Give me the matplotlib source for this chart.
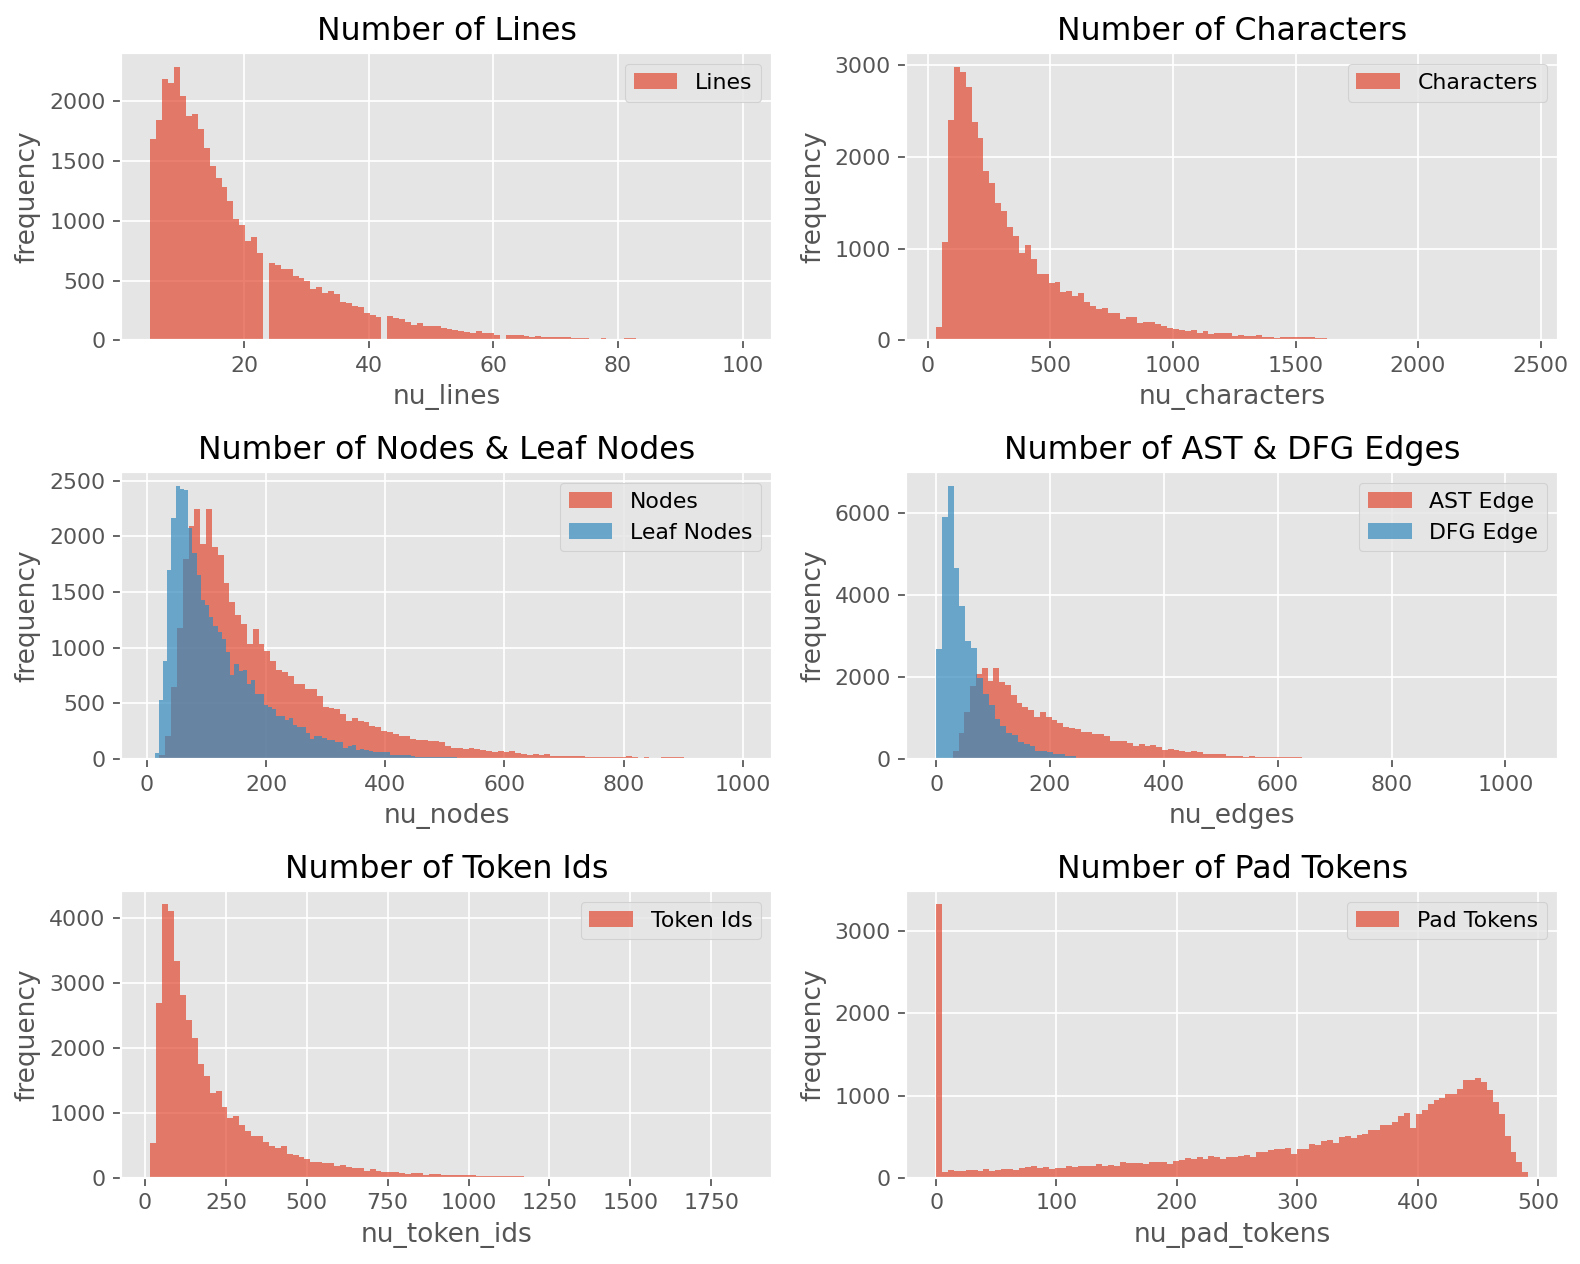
import numpy as np
import matplotlib
matplotlib.use("Agg")
import matplotlib.pyplot as plt

# bin counts (100 bins per histogram)
lines_edges = np.linspace(5, 100, 101)
lines_counts = [1680, 1840, 2185, 2152, 2287, 2042, 1874, 1890, 1764, 1612,
                1461, 1360, 1284, 1166, 1014, 963, 829, 862, 727, 0,
                643, 626, 593, 593, 534, 525, 500, 433, 449, 399,
                416, 390, 323, 315, 289, 281, 230, 213, 197, 0,
                205, 188, 180, 154, 129, 148, 122, 122, 122, 102,
                97, 85, 80, 71, 62, 80, 62, 62, 45, 0,
                48, 42, 44, 40, 32, 34, 30, 32, 26, 26,
                26, 18, 20, 20, 14, 14, 18, 12, 12, 0,
                18, 18, 4, 0, 12, 3, 2, 2, 2, 0,
                1, 1, 1, 1, 1, 1, 1, 1, 1, 1]

chars_edges = np.linspace(33, 2450, 101)
chars_counts = [147, 1070, 2399, 2982, 2927, 2762, 2377, 2201, 1850, 1718,
                1498, 1410, 1234, 1135, 949, 1037, 883, 718, 718, 630,
                641, 531, 542, 487, 520, 421, 377, 344, 355, 300,
                300, 234, 256, 256, 190, 201, 201, 180, 157, 135,
                125, 114, 103, 114, 81, 103, 70, 81, 81, 81,
                52, 62, 52, 52, 62, 42, 42, 22, 32, 42,
                42, 32, 32, 32, 22, 22, 12, 12, 3, 12,
                3, 10, 12, 3, 3, 12, 3, 2, 2, 0,
                1, 0, 1, 0, 0, 1, 0, 0, 0, 1,
                0, 0, 0, 0, 0, 0, 0, 0, 0, 1]

nodes_edges = np.linspace(21, 1000, 101)
nodes_counts = [42, 205, 648, 1181, 1795, 2093, 2247, 1931, 2247, 1904,
                1831, 1578, 1407, 1298, 1217, 1036, 1172, 1036, 973, 882,
                801, 783, 747, 675, 675, 630, 630, 566, 467, 458,
                449, 404, 340, 367, 340, 331, 295, 286, 250, 241,
                223, 205, 205, 178, 169, 169, 160, 160, 151, 114,
                105, 105, 96, 105, 96, 87, 78, 69, 78, 69,
                78, 60, 45, 38, 45, 38, 45, 30, 30, 30,
                30, 30, 30, 22, 16, 22, 16, 16, 22, 16,
                28, 16, 12, 22, 4, 4, 16, 16, 16, 16,
                1, 1, 1, 1, 1, 1, 1, 1, 1, 1]

leaf_edges = np.linspace(6, 710, 101)
leaf_counts = [2, 60, 530, 882, 1696, 2166, 2455, 2428, 2419, 2075,
               1849, 1651, 1425, 1380, 1280, 1199, 1145, 1081, 964, 756,
               855, 792, 801, 675, 711, 584, 584, 485, 467, 449,
               386, 386, 349, 367, 304, 286, 286, 232, 178, 205,
               205, 187, 169, 169, 151, 151, 105, 114, 123, 87,
               96, 87, 78, 69, 69, 69, 69, 42, 36, 36,
               36, 36, 30, 24, 24, 24, 24, 24, 24, 24,
               24, 24, 20, 15, 15, 15, 15, 15, 15, 15,
               15, 9, 9, 9, 9, 9, 3, 3, 3, 3,
               3, 3, 2, 2, 2, 2, 1, 1, 1, 1]

ast_edges = np.linspace(19, 1040, 101)
ast_counts = [16, 197, 631, 1148, 1787, 2082, 2230, 1910, 2230, 1885,
              1812, 1566, 1369, 1271, 1197, 1025, 1148, 1025, 951, 877,
              779, 754, 730, 656, 656, 607, 607, 557, 434, 434,
              434, 385, 311, 361, 311, 336, 290, 213, 238, 213,
              189, 164, 189, 164, 139, 139, 139, 139, 90, 90,
              90, 66, 90, 45, 45, 45, 66, 45, 45, 66,
              45, 28, 28, 28, 28, 28, 4, 28, 4, 28,
              1, 1, 1, 1, 1, 1, 1, 0, 1, 0,
              0, 1, 0, 0, 1, 0, 0, 0, 0, 0,
              0, 0, 0, 0, 0, 0, 0, 0, 0, 1]

dfg_edges = np.linspace(0, 1027, 101)
dfg_counts = [2697, 5918, 6680, 4664, 3730, 2894, 2721, 1984, 1590, 1320,
              975, 803, 631, 582, 410, 361, 311, 189, 189, 164,
              115, 115, 90, 90, 41, 41, 41, 41, 20, 20,
              8, 8, 5, 5, 5, 3, 3, 3, 2, 2,
              2, 1, 1, 1, 1, 1, 1, 0, 1, 0,
              1, 0, 0, 1, 0, 0, 0, 0, 1, 0,
              0, 0, 0, 0, 0, 0, 0, 0, 0, 0,
              0, 0, 0, 0, 0, 0, 0, 0, 0, 0,
              0, 0, 0, 0, 0, 0, 0, 0, 0, 0,
              0, 0, 0, 0, 0, 0, 0, 0, 0, 1]

tokens_edges = np.linspace(17, 1847, 101)
tokens_counts = [537, 2685, 4205, 4112, 3330, 2808, 2425, 2148, 1749, 1565,
                 1304, 1335, 1089, 921, 951, 813, 721, 644, 644, 552,
                 491, 460, 491, 368, 353, 322, 292, 246, 246, 230,
                 230, 184, 199, 169, 153, 153, 107, 138, 107, 92,
                 92, 92, 77, 61, 77, 77, 50, 58, 55, 50,
                 48, 48, 44, 44, 40, 36, 36, 32, 30, 28,
                 28, 26, 26, 3, 2, 2, 1, 1, 1, 1,
                 1, 0, 1, 0, 0, 1, 0, 0, 0, 0,
                 0, 0, 0, 0, 0, 0, 0, 0, 0, 0,
                 0, 0, 0, 0, 0, 0, 0, 0, 0, 1]

pad_edges = np.linspace(0, 492, 101)
pad_counts = [3317, 77, 101, 89, 89, 101, 101, 89, 113, 89,
              101, 113, 113, 101, 125, 137, 149, 125, 137, 113,
              125, 125, 149, 137, 149, 149, 149, 173, 149, 161,
              149, 197, 185, 185, 185, 173, 197, 197, 197, 173,
              210, 222, 246, 234, 258, 234, 270, 258, 234, 258,
              258, 270, 280, 258, 318, 318, 343, 355, 355, 367,
              294, 355, 355, 415, 403, 451, 463, 427, 500, 512,
              488, 524, 536, 584, 584, 645, 645, 681, 754, 790,
              609, 778, 826, 899, 947, 971, 1020, 1020, 1080, 1189,
              1189, 1213, 1165, 1068, 923, 778, 512, 318, 197, 77]


def draw_hist(ax, edges, counts, label):
    ax.hist(edges[:-1], bins=edges, weights=counts, alpha=0.7, label=label)


plt.style.use('ggplot')
fig, axes = plt.subplots(3, 2, figsize=(10, 8))

panels = [
    ("Number of Lines", "nu_lines", [(lines_edges, lines_counts, "Lines")]),
    ("Number of Characters", "nu_characters", [(chars_edges, chars_counts, "Characters")]),
    ("Number of Nodes & Leaf Nodes", "nu_nodes",
     [(nodes_edges, nodes_counts, "Nodes"), (leaf_edges, leaf_counts, "Leaf Nodes")]),
    ("Number of AST & DFG Edges", "nu_edges",
     [(ast_edges, ast_counts, "AST Edge"), (dfg_edges, dfg_counts, "DFG Edge")]),
    ("Number of Token Ids", "nu_token_ids", [(tokens_edges, tokens_counts, "Token Ids")]),
    ("Number of Pad Tokens", "nu_pad_tokens", [(pad_edges, pad_counts, "Pad Tokens")]),
]

for ax, (title, xlabel, series) in zip(axes.flat, panels):
    for edges, counts, label in series:
        draw_hist(ax, edges, counts, label)
    ax.set_title(title)
    ax.set_xlabel(xlabel)
    ax.set_ylabel("frequency")
    ax.legend(loc="upper right")

fig.subplots_adjust(left=0.0765, right=0.986, bottom=0.068, top=0.958,
                    wspace=0.206, hspace=0.458)
plt.savefig("out.png", dpi=158)
